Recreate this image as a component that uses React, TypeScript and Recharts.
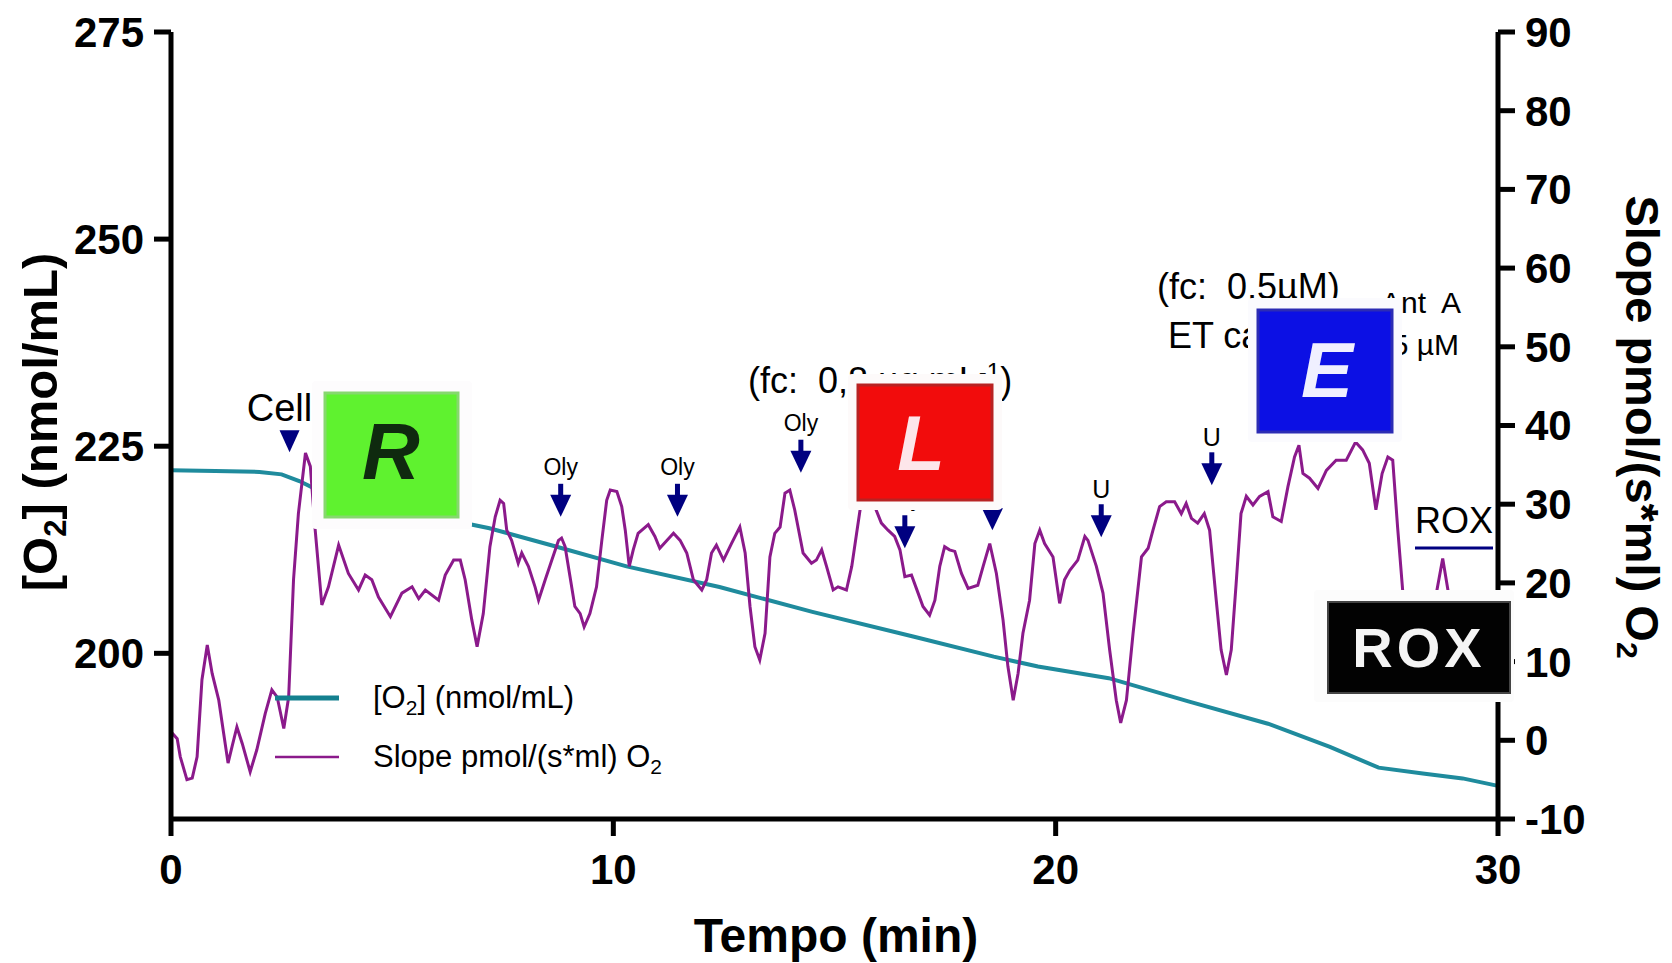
import { LineChart, Line, XAxis, YAxis, ReferenceDot } from "recharts";

const FONT = '"Liberation Sans", Arial, Helvetica, sans-serif';
const NAVY = "#000080";
const TEAL = "#1f8b9d";
const PURPLE = "#8b1a8b";

// [O2] trace (left axis, nmol/mL)
const o2Minutes = [0, 1, 2, 2.5, 2.9, 3.2, 4, 5, 6.1, 7.2, 8.7, 10.3, 12.4, 14.5, 16.8, 18.6, 19.6, 21.2, 23.0, 24.8, 26.2, 27.3, 28.3, 29.2, 30];
const o2Values = [222.1, 222.0, 221.9, 221.6, 220.8, 220.0, 219.0, 217.8, 216.3, 215.1, 212.9, 210.5, 208.0, 205.0, 202.0, 199.6, 198.4, 197.0, 194.2, 191.5, 188.7, 186.2, 185.5, 184.9, 184.0];

// slope trace (right axis, pmol/(s*ml))
const slopeMinutes = [
  0.0, 0.14, 0.21, 0.36, 0.48, 0.59, 0.7, 0.82, 0.93, 1.08, 1.19, 1.29, 1.38, 1.49, 1.61, 1.79, 1.94, 2.13, 2.28, 2.4,
  2.55, 2.66, 2.77, 2.88, 3.04, 3.15, 3.26, 3.41, 3.56, 3.79, 4.01, 4.24, 4.39, 4.54, 4.69, 4.96, 5.22, 5.45, 5.6, 5.75,
  6.05, 6.2, 6.39, 6.54, 6.65, 6.8, 6.92, 7.06, 7.21, 7.33, 7.44, 7.52, 7.59, 7.7, 7.85, 7.93, 8.08, 8.23, 8.31, 8.46,
  8.61, 8.76, 8.83, 8.91, 9.02, 9.13, 9.25, 9.34, 9.47, 9.62, 9.74, 9.85, 9.93, 10.08, 10.19, 10.27, 10.36, 10.45, 10.56, 10.79,
  10.94, 11.05, 11.21, 11.36, 11.51, 11.66, 11.81, 12.0, 12.11, 12.22, 12.33, 12.49, 12.67, 12.86, 12.98, 13.09, 13.2, 13.31, 13.43, 13.54,
  13.65, 13.77, 13.88, 13.99, 14.1, 14.29, 14.48, 14.59, 14.71, 14.82, 14.97, 15.08, 15.27, 15.39, 15.5, 15.61, 15.72, 15.8, 15.91, 16.06,
  16.21, 16.36, 16.48, 16.59, 16.74, 16.89, 17.0, 17.15, 17.27, 17.38, 17.49, 17.6, 17.72, 17.87, 18.02, 18.24, 18.36, 18.51, 18.66, 18.81,
  18.92, 19.04, 19.15, 19.26, 19.41, 19.53, 19.64, 19.75, 19.94, 20.09, 20.2, 20.32, 20.5, 20.66, 20.73, 20.92, 21.07, 21.22, 21.37, 21.47,
  21.6, 21.75, 21.94, 22.09, 22.2, 22.35, 22.5, 22.69, 22.84, 22.95, 23.07, 23.21, 23.36, 23.48, 23.63, 23.74, 23.86, 23.97, 24.08, 24.19,
  24.31, 24.46, 24.61, 24.8, 24.91, 25.1, 25.25, 25.4, 25.5, 25.59, 25.74, 25.93, 26.12, 26.34, 26.57, 26.78, 26.94, 27.09, 27.24, 27.38,
  27.51, 27.62, 27.73, 27.85, 28.0, 28.3, 28.5, 28.62, 28.75, 28.88, 29.0, 29.3, 29.6, 30.0,
];
const slopeValues = [
  1.1, 0.2, -2.1, -5.0, -4.8, -2.1, 7.7, 12.1, 8.5, 5.1, 0.9, -2.9, -0.8, 1.7, -0.4, -4.0, -1.2, 3.4, 6.4, 5.5,
  1.5, 5.5, 20.4, 28.8, 36.5, 34.8, 26.7, 17.2, 19.5, 24.8, 21.2, 19.1, 21.0, 20.4, 18.2, 15.7, 18.7, 19.5, 18.0, 19.1,
  17.8, 21.0, 22.9, 22.9, 20.4, 15.3, 11.9, 16.1, 24.6, 28.4, 30.5, 30.1, 26.7, 25.4, 22.5, 23.8, 22.1, 19.5, 17.8, 20.4,
  22.9, 25.4, 25.7, 24.6, 20.8, 17.0, 16.1, 14.4, 16.1, 19.5, 25.4, 30.5, 31.8, 31.6, 29.7, 26.7, 22.1, 24.2, 26.3, 27.4,
  25.9, 24.4, 25.4, 26.3, 25.4, 23.8, 20.4, 19.1, 20.4, 23.8, 24.8, 22.9, 25.0, 27.1, 23.8, 17.0, 11.9, 10.2, 13.6, 23.3,
  26.3, 27.1, 31.4, 31.8, 29.3, 23.8, 22.5, 22.9, 24.2, 22.1, 19.1, 19.5, 19.1, 22.1, 26.3, 30.5, 35.0, 36.0, 29.7, 27.6,
  26.7, 25.9, 24.2, 20.8, 21.0, 18.7, 17.0, 15.9, 17.8, 22.1, 24.6, 24.2, 24.0, 21.2, 19.3, 19.7, 22.1, 25.0, 21.2, 15.3,
  9.4, 5.1, 8.5, 13.6, 17.8, 25.0, 26.7, 25.0, 23.3, 17.4, 20.4, 21.6, 22.9, 25.9, 25.4, 22.1, 18.7, 11.5, 5.1, 2.2,
  5.1, 13.6, 23.3, 24.4, 26.7, 29.7, 30.3, 30.3, 28.8, 30.1, 28.2, 27.6, 28.8, 26.7, 17.8, 11.5, 8.3, 11.5, 19.9, 28.8,
  31.0, 29.9, 31.0, 31.6, 28.4, 27.8, 32.2, 36.0, 37.5, 33.9, 33.3, 32.0, 34.3, 35.6, 35.6, 37.9, 36.9, 35.2, 29.3, 33.9,
  36.0, 35.6, 27.1, 18.7, 12.0, 8.0, 12.0, 19.1, 23.1, 18.7, 12.0, 9.0, 10.0, 9.0,
];

const timeTicks = [0, 10, 20, 30];
const o2Ticks = [200, 225, 250, 275];
const slopeTicks = [-10, 0, 10, 20, 30, 40, 50, 60, 70, 80, 90];

// injection arrows: time (min), arrow tip on the slope axis, label
const injectionMinutes = [2.68, 8.81, 11.45, 14.24, 16.59, 18.57, 21.03, 23.53, 25.1, 27.54];
const injectionTips = [36.6, 28.4, 28.4, 34.0, 24.4, 26.7, 25.8, 32.4, 38.2, 44.0];
const injectionLabels = ["Cell", "Oly", "Oly", "Oly", "Oly", "U", "U", "U", "U", ""];

const chartData = [
  ...o2Minutes.map((t, i) => ({ t, o2: o2Values[i] })),
  ...slopeMinutes.map((t, i) => ({ t, slope: slopeValues[i] })),
].sort((a, b) => a.t - b.t);

const axisStroke = { stroke: "#000", strokeWidth: 5 };
const tickStyle = { fill: "#000", fontSize: 42, fontWeight: 700, fontFamily: FONT };
const NB = "\u00a0";

function InjectionArrow({ cx, cy, label }: { cx?: number; cy?: number; label: string }) {
  if (cx == null || cy == null) return null;
  if (label === "Cell") {
    return (
      <g>
        <polygon points={`${cx - 10},${cy - 22} ${cx + 10},${cy - 22} ${cx},${cy}`} fill={NAVY} />
        <text x={cx - 10} y={cy - 31} textAnchor="middle" fontSize={38} fontFamily={FONT} fill="#000">
          Cell
        </text>
      </g>
    );
  }
  const isU = label === "U";
  return (
    <g>
      <rect x={cx - 2.5} y={cy - 33} width={5} height={12} fill={NAVY} />
      <polygon points={`${cx - 10.5},${cy - 22} ${cx + 10.5},${cy - 22} ${cx},${cy}`} fill={NAVY} />
      {label && (
        <text x={cx} y={cy - 33 - (isU ? 6 : 9)} textAnchor="middle" fontSize={isU ? 25 : 23} fontFamily={FONT} fill="#000">
          {label}
        </text>
      )}
    </g>
  );
}

function Overlay() {
  return (
    <svg width={1672} height={963} style={{ position: "absolute", left: 0, top: 0, pointerEvents: "none" }}>
      {/* axis titles */}
      <text transform="rotate(-90 57 422)" x={57} y={422} textAnchor="middle" fontSize={49} fontWeight={700} fontFamily={FONT}>
        [O<tspan dy={9} fontSize={31}>2</tspan>
        <tspan dy={-9}>] (nmol/mL)</tspan>
      </text>
      <text transform="rotate(90 1626 427)" x={1626} y={427} textAnchor="middle" fontSize={47} fontWeight={700} fontFamily={FONT}>
        Slope pmol/(s*ml) O<tspan dy={9} fontSize={30}>2</tspan>
      </text>
      <text x={836} y={952} textAnchor="middle" fontSize={48} fontWeight={700} fontFamily={FONT}>
        Tempo (min)
      </text>

      {/* legend */}
      <line x1={275} x2={339} y1={698} y2={698} stroke="#14808f" strokeWidth={5} />
      <text x={373} y={708} fontSize={31} fontFamily={FONT}>
        [O<tspan dy={7} fontSize={21}>2</tspan>
        <tspan dy={-7}>] (nmol/mL)</tspan>
      </text>
      <line x1={275} x2={339} y1={757} y2={757} stroke={PURPLE} strokeWidth={2.5} />
      <text x={373} y={767} fontSize={31} fontFamily={FONT}>
        Slope pmol/(s*ml) O<tspan dy={7} fontSize={21}>2</tspan>
      </text>

      {/* notes */}
      <text x={748} y={393} fontSize={36} fontFamily={FONT}>
        {`(fc:${NB} 0,8 µg.mL`}
        <tspan dy={-13} fontSize={24}>-1</tspan>
        <tspan dy={13}>)</tspan>
      </text>
      <text x={1157} y={299} fontSize={36} fontFamily={FONT}>
        {`(fc:${NB} 0,5µM)`}
      </text>
      <text x={1168} y={348} fontSize={36} fontFamily={FONT}>
        ET cap.
      </text>
      <text x={1461} y={313} textAnchor="end" fontSize={30} fontFamily={FONT}>
        {`Ant${NB} A`}
      </text>
      <text x={1459} y={355} textAnchor="end" fontSize={30} fontFamily={FONT}>
        2,5 µM
      </text>
      <text x={1415} y={533} fontSize={36} fontFamily={FONT}>
        ROX
      </text>
      <line x1={1415} x2={1493} y1={548} y2={548} stroke={NAVY} strokeWidth={3} />

      {/* state boxes */}
      <rect x={312} y={381} width={160} height={148} rx={4} fill="#fdfcfd" />
      <rect x={325} y={393} width={133} height={124} fill="#5ff22f" stroke="#86d86e" strokeWidth={3} />
      <text x={391} y={479} textAnchor="middle" fontSize={80} fontWeight={700} fontStyle="italic" fontFamily={FONT} fill="#0f2a0f">
        R
      </text>

      <rect x={848} y={374} width={154} height={136} rx={4} fill="#fdfafa" />
      <rect x={858} y={385} width={134} height={115} fill="#f20c0c" stroke="#b82222" strokeWidth={3} />
      <text x={921} y={470} textAnchor="middle" fontSize={78} fontWeight={700} fontStyle="italic" fontFamily={FONT} fill="#fde6ea">
        L
      </text>

      <rect x={1248} y={298} width={154} height={144} rx={4} fill="#fbfbfe" />
      <rect x={1258} y={310} width={134} height={122} fill="#0c10e4" stroke="#2c2cb4" strokeWidth={3} />
      <text x={1327} y={397} textAnchor="middle" fontSize={78} fontWeight={700} fontStyle="italic" fontFamily={FONT} fill="#f0f0ff">
        E
      </text>

      <rect x={1314} y={590} width={200} height={112} rx={4} fill="#fcfcfc" />
      <rect x={1328} y={602} width={182} height={91} fill="#020202" stroke="#444" strokeWidth={2} />
      <text x={1419} y={667} textAnchor="middle" fontSize={56} fontWeight={700} letterSpacing={4} fontFamily={FONT} fill="#f4f4f4">
        ROX
      </text>
    </svg>
  );
}

export default function App() {
  return (
    <div style={{ position: "absolute", left: 0, top: 0, width: 1672, height: 963, background: "#fff" }}>
      <LineChart width={1672} height={963} data={chartData} margin={{ top: 32, right: 0, bottom: 0, left: 0 }}>
        <XAxis
          dataKey="t"
          type="number"
          domain={[0, 30]}
          ticks={timeTicks}
          interval={0}
          height={144}
          tickSize={17}
          tickMargin={18}
          axisLine={axisStroke}
          tickLine={axisStroke}
          tick={tickStyle}
        />
        <YAxis
          yAxisId="o2"
          orientation="left"
          type="number"
          width={171}
          domain={[180, 275]}
          ticks={o2Ticks}
          interval={0}
          tickSize={17}
          tickMargin={10}
          axisLine={axisStroke}
          tickLine={axisStroke}
          tick={tickStyle}
        />
        <YAxis
          yAxisId="slope"
          orientation="right"
          type="number"
          width={174}
          domain={[-10, 90]}
          ticks={slopeTicks}
          interval={0}
          tickSize={17}
          tickMargin={10}
          axisLine={axisStroke}
          tickLine={axisStroke}
          tick={tickStyle}
        />
        <Line
          yAxisId="o2"
          type="linear"
          dataKey="o2"
          stroke={TEAL}
          strokeWidth={4}
          dot={false}
          connectNulls
          isAnimationActive={false}
        />
        <Line
          yAxisId="slope"
          type="linear"
          dataKey="slope"
          stroke={PURPLE}
          strokeWidth={3}
          dot={false}
          connectNulls
          isAnimationActive={false}
        />
        {injectionMinutes.map((t, i) => (
          <ReferenceDot
            key={i}
            yAxisId="slope"
            x={t}
            y={injectionTips[i]}
            r={0}
            shape={(p: any) => <InjectionArrow cx={p.cx} cy={p.cy} label={injectionLabels[i]} />}
          />
        ))}
      </LineChart>
      <Overlay />
    </div>
  );
}
